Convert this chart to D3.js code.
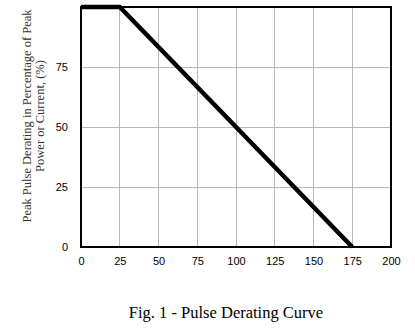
<!DOCTYPE html>
<html><head><meta charset="utf-8">
<script src="https://cdn.jsdelivr.net/npm/d3@7"></script>
<style>body{margin:0;background:#fff}svg{display:block}</style>
</head><body>
<svg id="c" width="415" height="335"></svg>
<script>
const temps = [0, 25, 175];
const derating = [100, 100, 0];
const xTicks = [0, 25, 50, 75, 100, 125, 150, 175, 200];
const yTicks = [0, 25, 50, 75];
const yTitle = ["Peak Pulse Derating in Percentage of  Peak", "Power or Current, (%)"];
const caption = "Fig. 1 - Pulse Derating Curve";

const svg = d3.select("#c");
const L = 81, R = 391, T = 7, B = 247;
const x = d3.scaleLinear().domain([0, 200]).range([L, R]);
const y = d3.scaleLinear().domain([0, 100]).range([B, T]);

// grid
svg.append("g").selectAll("line").data(xTicks.filter(d => d > 0 && d < 200)).join("line")
  .attr("x1", d => x(d)).attr("x2", d => x(d)).attr("y1", T).attr("y2", B)
  .attr("stroke", "#b8b8b8").attr("stroke-width", 1).attr("shape-rendering", "crispEdges");
svg.append("g").selectAll("line").data(yTicks.filter(d => d > 0)).join("line")
  .attr("x1", L).attr("x2", R).attr("y1", d => y(d)).attr("y2", d => y(d))
  .attr("stroke", "#b8b8b8").attr("stroke-width", 1).attr("shape-rendering", "crispEdges");

// frame
svg.append("rect").attr("x", L).attr("y", T).attr("width", R - L).attr("height", B - T)
  .attr("fill", "none").attr("stroke", "#000").attr("stroke-width", 2);

// axes labels
const xa = svg.append("g").attr("transform", `translate(0,${B})`)
  .call(d3.axisBottom(x).tickValues(xTicks).tickSize(0).tickPadding(10));
xa.select(".domain").remove();
xa.selectAll("text").attr("font-family", "Liberation Sans, Arial").attr("font-size", 11).attr("fill", "#000");
const ya = svg.append("g").attr("transform", `translate(${L},0)`)
  .call(d3.axisLeft(y).tickValues(yTicks).tickSize(0).tickPadding(13));
ya.select(".domain").remove();
ya.selectAll("text").attr("font-family", "Liberation Sans, Arial").attr("font-size", 11).attr("fill", "#000");

// data line
const pts = temps.map((t, i) => [t, derating[i]]);
svg.append("path").datum(pts)
  .attr("d", d3.line().x(d => x(d[0])).y(d => y(d[1])))
  .attr("fill", "none").attr("stroke", "#000").attr("stroke-width", 4.5)
  .attr("stroke-linejoin", "miter");

// y title
const yt = svg.append("text").attr("transform", "translate(0,116) rotate(-90)")
  .attr("font-family", "Liberation Serif, Times New Roman").attr("font-size", 12.5)
  .attr("fill", "#333").attr("text-anchor", "middle");
yTitle.forEach((s, i) => yt.append("tspan").attr("x", 0).attr("y", 31 + i * 13).text(s));

// caption
svg.append("text").attr("x", 226).attr("y", 318).attr("text-anchor", "middle")
  .attr("font-family", "Liberation Serif, Times New Roman").attr("font-size", 16.5)
  .attr("fill", "#000").text(caption);
</script>
</body></html>
